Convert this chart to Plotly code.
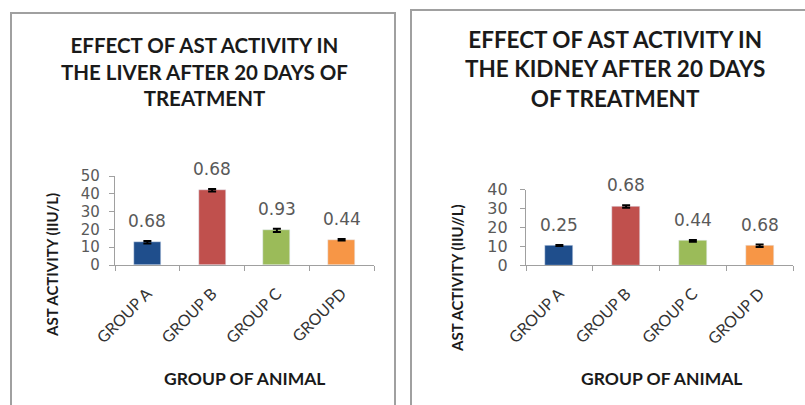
import plotly.graph_objects as go

W, H = 805, 405

groups_liver = ["GROUP A", "GROUP B", "GROUP C", "GROUPD"]
groups_kidney = ["GROUP A", "GROUP B", "GROUP C", "GROUP D"]
liver_ast = [12.8, 42.0, 19.5, 14.2]
liver_err = [0.68, 0.68, 0.93, 0.44]
kidney_ast = [10.3, 31.0, 12.8, 10.2]
kidney_err = [0.25, 0.68, 0.44, 0.68]
bar_colors = ["#1F4E8C", "#C0504D", "#9BBB59", "#F79646"]

liver_title = "EFFECT OF AST ACTIVITY IN<br>THE LIVER AFTER 20 DAYS OF<br>TREATMENT"
kidney_title = "EFFECT OF AST ACTIVITY IN<br>THE KIDNEY AFTER 20 DAYS<br>OF TREATMENT"
liver_ylabel = "AST ACTIVITY (IIU/L)"
kidney_ylabel = "AST ACTIVITY (IIU//L)"
xlabel = "GROUP OF ANIMAL"


def px_x(x):
    return x / W


def px_y(y):
    return 1 - y / H


fig = go.Figure()

fig.add_trace(go.Bar(
    x=groups_liver, y=liver_ast, marker_color=bar_colors, width=0.42,
    error_y=dict(type="data", array=liver_err, color="black", thickness=2, width=4),
    xaxis="x", yaxis="y", showlegend=False,
))
fig.add_trace(go.Bar(
    x=groups_kidney, y=kidney_ast, marker_color=bar_colors, width=0.42,
    error_y=dict(type="data", array=kidney_err, color="black", thickness=2, width=4),
    xaxis="x2", yaxis="y2", showlegend=False,
))

cat_font = dict(family="Lato", size=16, color="#333333")

axis_common = dict(
    showline=True, linecolor="#A0A0A0", linewidth=1.2,
    ticks="outside", tickcolor="#A0A0A0", ticklen=5,
    showgrid=False, zeroline=False, automargin=False,
)

fig.update_layout(
    width=W, height=H,
    margin=dict(l=0, r=0, t=0, b=0, pad=0, autoexpand=False),
    paper_bgcolor="white", plot_bgcolor="white",
    bargap=0,
    xaxis=dict(domain=[px_x(115), px_x(374)], anchor="y", type="category",
               range=[-0.5, 3.5], tickson="boundaries", tickangle=-45,
               ticklabelstandoff=12, tickfont=cat_font, **axis_common),
    yaxis=dict(domain=[px_y(265), px_y(176)], anchor="x", range=[0, 50],
               dtick=10, ticklabelstandoff=6,
               tickfont=dict(family="DejaVu Sans", size=15, color="#595959"),
               **axis_common),
    xaxis2=dict(domain=[px_x(526), px_x(793)], anchor="y2", type="category",
                range=[-0.5, 3.5], tickson="boundaries", tickangle=-45,
                ticklabelstandoff=12, tickfont=cat_font, **axis_common),
    yaxis2=dict(domain=[px_y(265), px_y(189.5)], anchor="x2", range=[0, 40],
                dtick=10, ticklabelstandoff=9,
                tickfont=dict(family="DejaVu Sans", size=16, color="#595959"),
                **axis_common),
)

# Panel frames
frame = dict(type="rect", xref="paper", yref="paper",
             line=dict(color="#A0A0A0", width=2), fillcolor="rgba(0,0,0,0)")
fig.add_shape(x0=px_x(11), x1=px_x(395), y0=px_y(430), y1=px_y(13), **frame)
fig.add_shape(x0=px_x(411), x1=px_x(850), y0=px_y(430), y1=px_y(10), **frame)

ann = []
ann.append(dict(x=px_x(204), y=px_y(71), text="<b>" + liver_title + "</b>",
                font=dict(family="Lato", size=20.5, color="#1A1A1A")))
ann.append(dict(x=px_x(615), y=px_y(69), text="<b>" + kidney_title + "</b>",
                font=dict(family="Lato", size=22.5, color="#1A1A1A")))

axis_title_font = dict(family="Lato", size=15, color="#1A1A1A")
ann.append(dict(x=px_x(52), y=px_y(265), text="<b>" + liver_ylabel + "</b>",
                textangle=-90, font=axis_title_font))
ann.append(dict(x=px_x(457), y=px_y(278), text="<b>" + kidney_ylabel + "</b>",
                textangle=-90, font=axis_title_font))
xt_font = dict(family="Lato", size=17.5, color="#1A1A1A")
ann.append(dict(x=px_x(244), y=px_y(378), text="<b>" + xlabel + "</b>", font=xt_font))
ann.append(dict(x=px_x(661), y=px_y(378), text="<b>" + xlabel + "</b>", font=xt_font))

for a in ann:
    a.update(xref="paper", yref="paper", showarrow=False,
             xanchor="center", yanchor="middle")

# Error values written above each bar
for xs, ys, es, xa, ya in [(groups_liver, liver_ast, liver_err, "x", "y"),
                           (groups_kidney, kidney_ast, kidney_err, "x2", "y2")]:
    for g, v, e in zip(xs, ys, es):
        ann.append(dict(x=g, y=v, xref=xa, yref=ya, text=f"{e:.2f}",
                        showarrow=False, yanchor="bottom", yshift=9,
                        font=dict(family="DejaVu Sans", size=17, color="#595959")))

fig.update_layout(annotations=ann)

fig.write_html("out.html")
